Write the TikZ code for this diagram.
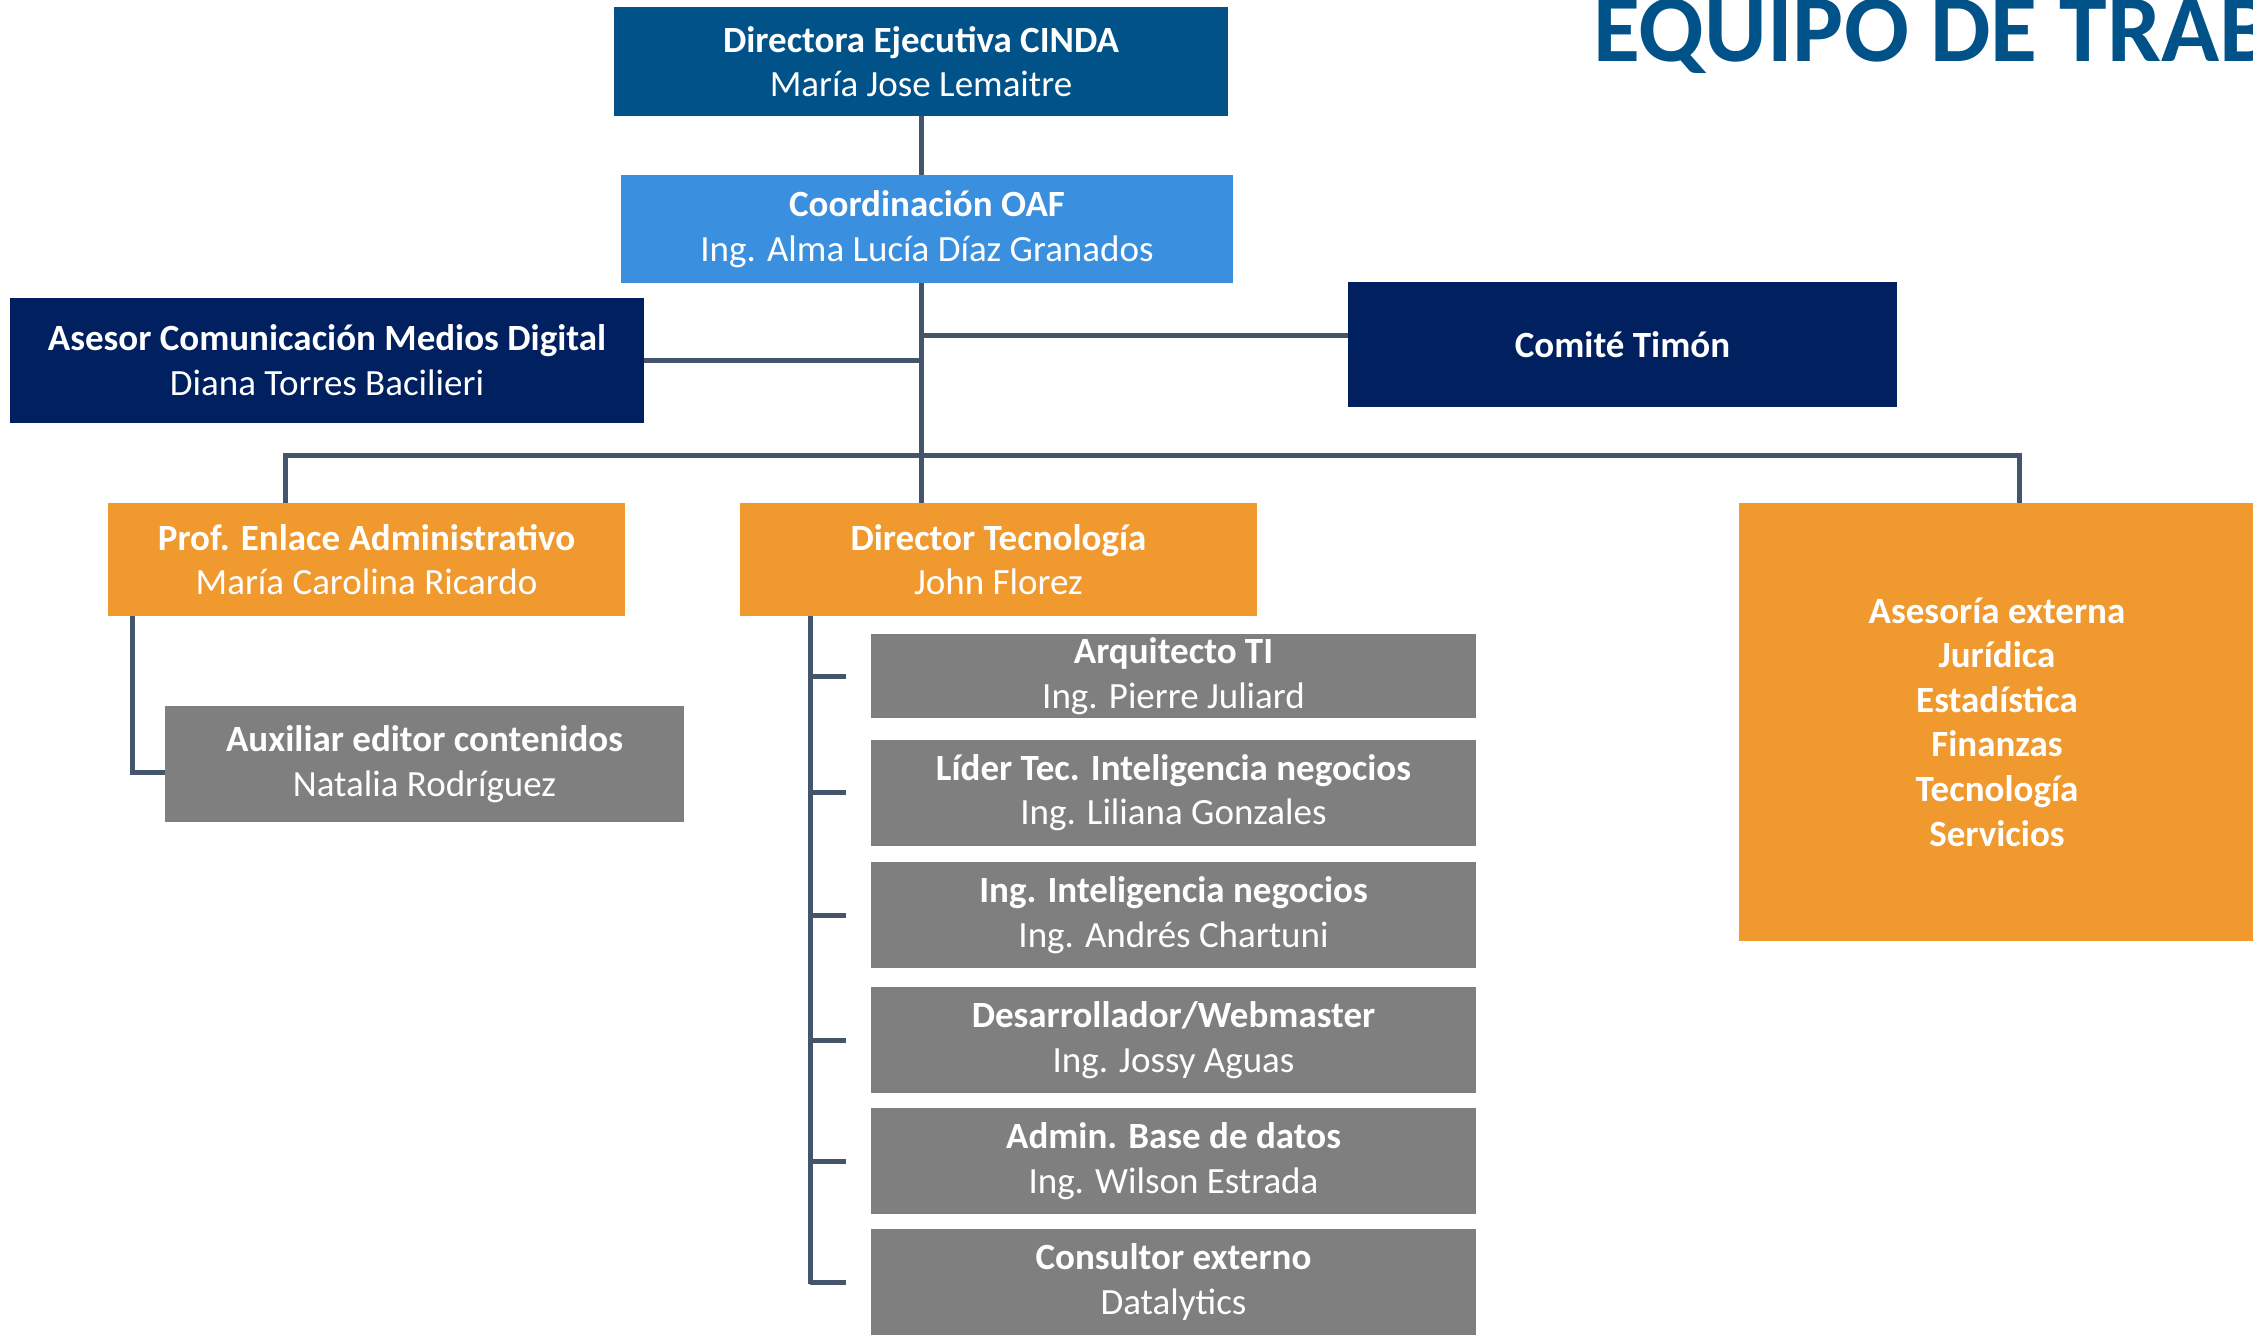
\documentclass[tikz,border=0pt]{standalone}
\usepackage{fontspec}
\setmainfont{Carlito}
\definecolor{cindablue}{RGB}{0,82,136}
\definecolor{oafblue}{RGB}{58,143,222}
\definecolor{navybox}{RGB}{0,32,96}
\definecolor{orangebox}{RGB}{240,153,46}
\definecolor{graybox}{RGB}{127,127,127}
\definecolor{linkgray}{RGB}{68,84,106}

\begin{document}
\begin{tikzpicture}[x=1pt,y=-1pt,
chart/.style={rectangle, inner sep=0pt, text=white, align=center,
font=\fontsize{37}{44.6}\selectfont},
staff/.style={chart, fill=graybox, minimum width=605pt, minimum height=106pt},
link/.style={draw=linkgray, line width=5pt}]

\clip (0,0) rectangle (2253,1334);

\node[anchor=base west, text=cindablue, font=\fontsize{96}{110}\selectfont\bfseries] (title) at (1590,61) {EQUIPO DE TRAB};

\node[chart, fill=cindablue, minimum width=614pt, minimum height=109pt] (dir) at (921,61.5) {\textbf{Directora Ejecutiva CINDA}\\María Jose Lemaitre};
\node[chart, fill=oafblue, minimum width=612pt, minimum height=108pt] (coord) at (927,229) {\textbf{Coordinación OAF}\\Ing. Alma Lucía Díaz Granados};

\node[chart, fill=navybox, minimum width=634pt, minimum height=125pt] (asesor) at (327,360) {\textbf{Asesor Comunicación Medios Digital}\\Diana Torres Bacilieri};
\node[chart, fill=navybox, minimum width=549pt, minimum height=125pt] (comite) at (1622.5,344.5) {\textbf{Comité Timón}};

\node[chart, fill=orangebox, minimum width=517pt, minimum height=113pt] (enlace) at (366.5,559.5) {\textbf{Prof. Enlace Administrativo}\\María Carolina Ricardo};
\node[chart, fill=orangebox, minimum width=517pt, minimum height=113pt] (dtec) at (998.5,559.5) {\textbf{Director Tecnología}\\John Florez};
\node[chart, fill=orangebox, minimum width=517pt, minimum height=438pt, font=\fontsize{37}{44.6}\selectfont\bfseries] (externa) at (1997,722) {Asesoría externa\\Jurídica\\Estadística\\Finanzas\\Tecnología\\Servicios};

\node[chart, fill=graybox, minimum width=519pt, minimum height=116pt] (aux) at (424.5,764) {\textbf{Auxiliar editor contenidos}\\Natalia Rodríguez};

\node[staff, minimum height=84pt] (arq) at (1173.5,676) {\textbf{Arquitecto TI}\\Ing. Pierre Juliard};
\node[staff] (lider) at (1173.5,792.5) {\textbf{Líder Tec. Inteligencia negocios}\\Ing. Liliana Gonzales};
\node[staff] (inteng) at (1173.5,915) {\textbf{Ing. Inteligencia negocios}\\Ing. Andrés Chartuni};
\node[staff] (desa) at (1173.5,1040) {\textbf{Desarrollador/Webmaster}\\Ing. Jossy Aguas};
\node[staff] (admin) at (1173.5,1161) {\textbf{Admin. Base de datos}\\Ing. Wilson Estrada};
\node[staff] (cons) at (1173.5,1282) {\textbf{Consultor externo}\\Datalytics};

\coordinate (tc) at (921,335);
\coordinate (busL) at (285,455);
\coordinate (busR) at (2019,455);
\coordinate (el) at (132,772);
\coordinate (spine) at (810,1284);

\draw[link] (dir.south) -- (dir.south |- coord.north);
\draw[link] (dir.south |- coord.south) -- (dir.south |- dtec.north);
\draw[link] (tc) -- (tc -| comite.west);
\draw[link] (asesor.east) -- (asesor.east -| tc);
\draw[link] (busL |- enlace.north) -- (busL) -- (busR) -- (busR |- externa.north);
\draw[link] (el |- enlace.south) -- (el) -- (el -| aux.west);
\draw[link] (spine |- dtec.south) -- (spine);

\foreach \n in {arq,lider,inteng,desa,admin,cons}
  \draw[link] (spine |- \n.west) -- ++(36,0);

\end{tikzpicture}
\end{document}
